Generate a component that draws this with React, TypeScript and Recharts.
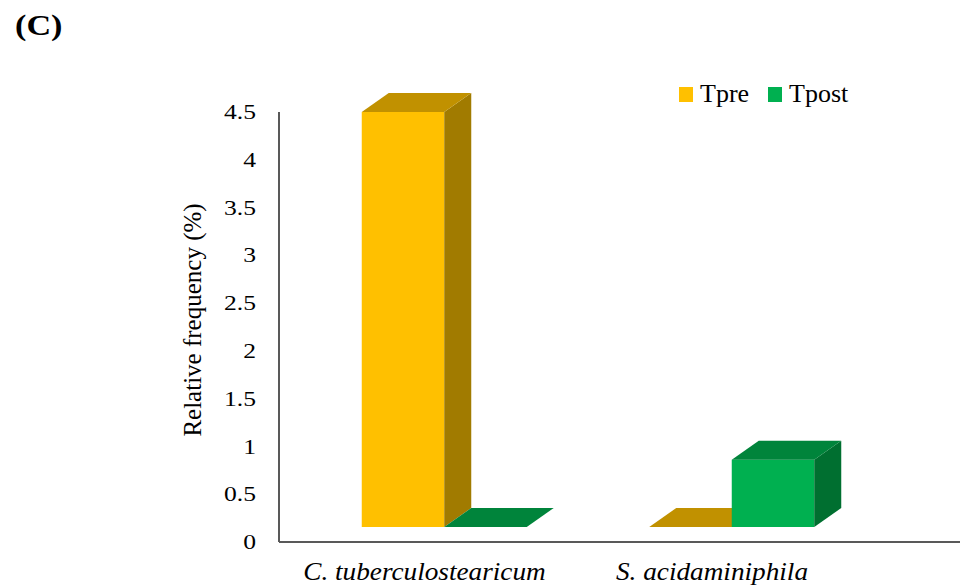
import React from 'react';
import { BarChart, Bar, XAxis, YAxis, Legend } from 'recharts';

// Taxa on the category axis
const taxa = ['C. tuberculostearicum', 'S. acidaminiphila'];
// Relative frequency (%) before and after
const tpre = [4.5, 0];
const tpost = [0, 0.73];
// Value axis tick labels
const yTicks = [0, 0.5, 1, 1.5, 2, 2.5, 3, 3.5, 4, 4.5];

const data = taxa.map((name, i) => ({ name, Tpre: tpre[i], Tpost: tpost[i] }));

const SERIF = '"Liberation Serif", "Times New Roman", serif';
const AXIS = '#595959';

const palettes: Record<string, { front: string; top: string; side: string }> = {
  Tpre: { front: '#FFC000', top: '#C19100', side: '#A17B00' },
  Tpost: { front: '#00B050', top: '#00843B', side: '#006F30' },
};

// depth of the 3D boxes
const DX = 27;
const DY = 19;

const makeBox = (key: string) => (props: any) => {
  const { x, y, width, height } = props;
  const c = palettes[key];
  const h = Math.max(0, height || 0);
  const top = y + (height < 0 ? height : 0);
  const x2 = x + width;
  const yb = top + h;
  return (
    <g>
      {h > 0 && <rect x={x} y={top} width={width} height={h} fill={c.front} />}
      {h > 0 && (
        <polygon
          points={`${x2},${top} ${x2 + DX},${top - DY} ${x2 + DX},${yb - DY} ${x2},${yb}`}
          fill={c.side}
        />
      )}
      <polygon
        points={`${x},${top} ${x + DX},${top - DY} ${x2 + DX},${top - DY} ${x2},${top}`}
        fill={c.top}
      />
    </g>
  );
};

const YTick = (props: any) => {
  const { y, payload } = props;
  return (
    <text
      transform={`translate(256,${y}) scale(1.22,1)`}
      x={0}
      y={0}
      dy="0.34em"
      textAnchor="end"
      style={{ fontFamily: SERIF, fontSize: 21 }}
      fill="#000"
    >
      {payload.value}
    </text>
  );
};

const XTick = (props: any) => {
  const { x, y, payload } = props;
  return (
    <text
      transform={`translate(${x - 20},${y + 36}) scale(1.09,1)`}
      x={0}
      y={0}
      textAnchor="middle"
      style={{ fontFamily: SERIF, fontStyle: 'italic', fontSize: 25 }}
      fill="#000"
    >
      {payload.value}
    </text>
  );
};

const YLabel = () => (
  <text
    x={0}
    y={0}
    transform="translate(201,320) rotate(-90)"
    textAnchor="middle"
    style={{ fontFamily: SERIF, fontSize: 25 }}
    fill="#000"
  >
    Relative frequency (%)
  </text>
);

const LegendContent = () => (
  <div style={{ display: 'flex', alignItems: 'center', fontFamily: SERIF, fontSize: 26, color: '#000', whiteSpace: 'nowrap' }}>
    {(['Tpre', 'Tpost'] as const).map((k, i) => (
      <div key={k} style={{ display: 'flex', alignItems: 'center', marginLeft: i ? 19 : 0 }}>
        <span style={{ width: 14, height: 15, background: palettes[k].front, display: 'inline-block', marginRight: 7 }} />
        <span>{k}</span>
      </div>
    ))}
  </div>
);

export default function App() {
  return (
    <div style={{ position: 'absolute', left: 0, top: 0, width: 960, height: 586, background: '#fff' }}>
      <div
        style={{
          position: 'absolute',
          left: 15,
          top: 8,
          fontFamily: SERIF,
          fontWeight: 'bold',
          fontSize: 30,
          color: '#000',
          transform: 'scaleX(1.14)',
          transformOrigin: 'left top',
        }}
      >
        (C)
      </div>
      <BarChart
        width={960}
        height={586}
        data={data}
        margin={{ top: 112, right: 0, bottom: 14, left: 179 }}
        barSize={82.5}
        barGap={0}
      >
        <XAxis
          dataKey="name"
          height={30}
          padding={{ left: 21.75, right: 84.25 }}
          axisLine={{ stroke: AXIS, strokeWidth: 2 }}
          tickLine={false}
          tickSize={0}
          tick={<XTick />}
          interval={0}
        />
        <YAxis
          yAxisId="left"
          width={100}
          domain={[0, 4.5]}
          ticks={yTicks}
          allowDataOverflow
          axisLine={{ stroke: AXIS, strokeWidth: 2 }}
          tickLine={false}
          tick={<YTick />}
          label={<YLabel />}
        />
        <YAxis yAxisId="bars" hide width={0} domain={[-0.1627, 4.5]} type="number" />
        <Legend
          verticalAlign="middle"
          align="center"
          layout="horizontal"
          content={<LegendContent />}
          wrapperStyle={{ top: 79, left: 679, width: 'auto', height: 'auto' }}
        />
        <Bar yAxisId="bars" dataKey="Tpre" isAnimationActive={false} shape={makeBox('Tpre')} />
        <Bar yAxisId="bars" dataKey="Tpost" isAnimationActive={false} shape={makeBox('Tpost')} />
      </BarChart>
    </div>
  );
}
